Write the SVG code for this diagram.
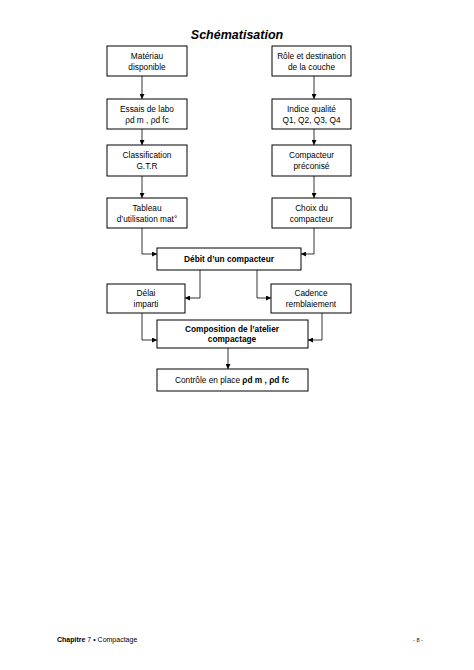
<svg xmlns="http://www.w3.org/2000/svg" width="474" height="670" viewBox="0 0 474 670">
<style>
.box{fill:#fff;stroke:#000;stroke-width:1}
.t{font-family:"Liberation Sans",Arial,sans-serif;font-size:8.3px;fill:#000;text-anchor:middle}
.b{font-weight:bold}
.c{fill:none;stroke:#000;stroke-width:0.8}
</style>
<defs>
<marker id="ah" markerWidth="5" markerHeight="5" refX="5" refY="2.5" orient="auto" markerUnits="userSpaceOnUse">
<path d="M0,0 L5,2.5 L0,5 z" fill="#000"/>
</marker>
</defs>
<rect width="474" height="670" fill="#fff"/>
<text x="237" y="39" font-family="Liberation Sans,Arial,sans-serif" font-size="12.5" font-weight="bold" font-style="italic" text-anchor="middle">Schématisation</text>

<g id="connectors">
<path class="c" d="M142,76 V99" marker-end="url(#ah)"/>
<path class="c" d="M142,129 V145" marker-end="url(#ah)"/>
<path class="c" d="M142,176 V198" marker-end="url(#ah)"/>
<path class="c" d="M142,228 V254 H157" marker-end="url(#ah)"/>
<path class="c" d="M314,76 V99" marker-end="url(#ah)"/>
<path class="c" d="M314,129 V145" marker-end="url(#ah)"/>
<path class="c" d="M314,176 V198" marker-end="url(#ah)"/>
<path class="c" d="M314,228 V254 H301" marker-end="url(#ah)"/>
<path class="c" d="M200,270 V298 H185" marker-end="url(#ah)"/>
<path class="c" d="M257,270 V298 H271" marker-end="url(#ah)"/>
<path class="c" d="M142,313 V340 H157" marker-end="url(#ah)"/>
<path class="c" d="M322,313 V340 H308" marker-end="url(#ah)"/>
<path class="c" d="M228,348 V369" marker-end="url(#ah)"/>
</g>

<g id="materiau"><rect class="box" x="107" y="46" width="80" height="30"/>
<text class="t" x="147" y="58.5">Matériau</text><text class="t" x="147" y="69.5">disponible</text></g>
<g id="essais"><rect class="box" x="107" y="99" width="80" height="30"/>
<text class="t" x="147" y="111.5">Essais de labo</text><text class="t" x="147" y="122.5">ρd m , ρd fc</text></g>
<g id="classification"><rect class="box" x="107" y="145" width="80" height="31"/>
<text class="t" x="147" y="158">Classification</text><text class="t" x="147" y="169">G.T.R</text></g>
<g id="tableau"><rect class="box" x="107" y="198" width="80" height="30"/>
<text class="t" x="147" y="210.5">Tableau</text><text class="t" x="147" y="221.5">d’utilisation mat°</text></g>

<g id="role"><rect class="box" x="272" y="46" width="79" height="30"/>
<text class="t" x="311.5" y="58.5">Rôle et destination</text><text class="t" x="311.5" y="69.5">de la couche</text></g>
<g id="indice"><rect class="box" x="272" y="99" width="79" height="30"/>
<text class="t" x="311.5" y="111.5">Indice qualité</text><text class="t" x="311.5" y="122.5">Q1, Q2, Q3, Q4</text></g>
<g id="compacteur"><rect class="box" x="272" y="145" width="79" height="31"/>
<text class="t" x="311.5" y="158">Compacteur</text><text class="t" x="311.5" y="169">préconisé</text></g>
<g id="choix"><rect class="box" x="272" y="198" width="79" height="30"/>
<text class="t" x="311.5" y="210.5">Choix du</text><text class="t" x="311.5" y="221.5">compacteur</text></g>

<g id="debit"><rect class="box" x="157" y="248" width="144" height="22"/>
<text class="t b" x="229" y="262">Débit d’un compacteur</text></g>
<g id="delai"><rect class="box" x="107" y="284" width="78" height="29"/>
<text class="t" x="146" y="296">Délai</text><text class="t" x="146" y="307">imparti</text></g>
<g id="cadence"><rect class="box" x="271" y="284" width="80" height="29"/>
<text class="t" x="311" y="296">Cadence</text><text class="t" x="311" y="307">remblaiement</text></g>
<g id="composition"><rect class="box" x="157" y="320" width="151" height="28"/>
<text class="t b" x="232" y="331.5">Composition de l’atelier</text><text class="t b" x="232" y="342">compactage</text></g>
<g id="controle"><rect class="box" x="157" y="369" width="151" height="22"/>
<text class="t" x="232" y="383">Contrôle en place <tspan class="b">ρd m , ρd fc</tspan></text></g>

<text x="57" y="642" font-family="Liberation Sans,Arial,sans-serif" font-size="7"><tspan font-weight="bold">Chapitre</tspan> 7 • Compactage</text>
<text x="418" y="642" font-family="Liberation Sans,Arial,sans-serif" font-size="5.5" text-anchor="middle">- 8 -</text>
</svg>
